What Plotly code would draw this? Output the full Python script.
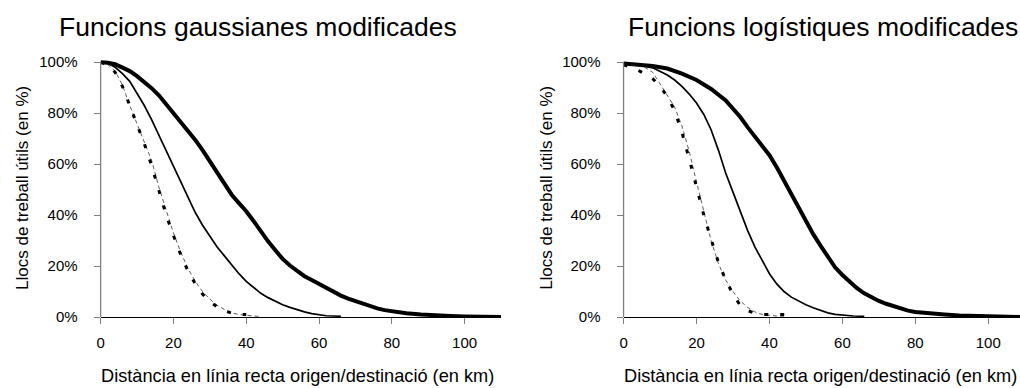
import plotly.graph_objects as go

# ---------------- data (km, % of useful jobs) ----------------
# Left panel: modified gaussian functions
g1_km = [0, 2, 4, 6, 8, 10, 12, 14, 16, 18, 20, 22, 24, 26, 28, 30, 32, 34, 36, 38, 40, 42, 44, 46, 48, 50,
         52, 54, 56, 58, 60, 62, 64, 66, 68, 70, 72, 74, 76, 78, 80, 84, 88, 92, 96, 100, 104, 110]
g1_pct = [100, 99.8, 99.2, 98, 96.5, 94.5, 92.3, 89.8, 87, 83.6, 80, 76.5, 73, 69.5, 65.5, 61, 56.5, 52, 48,
          44.7, 41.5, 37.7, 33.5, 29.7, 26.2, 22.8, 20.2, 18, 16, 14.5, 13, 11.2, 9.6, 8.4, 7.2, 6.2, 5.2,
          4.2, 3.4, 2.7, 2.2, 1.5, 1, 0.6, 0.4, 0.2, 0.1, 0]

g2_km = [0, 2, 4, 6, 8, 10, 12, 14, 16, 18, 20, 22, 24, 26, 28, 30, 32, 34, 36, 38, 40, 42, 44, 46, 48, 50,
         52, 54, 56, 58, 60, 62, 64, 66]
g2_pct = [100, 99.6, 98, 95.5, 92.5, 88, 83, 77.5, 71.5, 65.5, 59.5, 53, 47, 41, 36, 31.5, 27.5, 24, 20.5,
          17, 14, 11.5, 9.3, 7.6, 6.2, 4.8, 3.8, 2.8, 2, 1.3, 0.8, 0.5, 0.4, 0.3]

g3_km = [0, 2, 4, 6, 8, 10, 12, 14, 16, 18, 20, 22, 24, 26, 28, 30, 32, 34, 36, 38, 40, 42, 44]
g3_pct = [100, 99, 96.5, 91, 83, 76, 69, 61.5, 51, 42, 33, 25.5, 19, 14, 10, 7, 4.6, 3, 1.6, 1, 0.6, 0.4, 0.2]

g4_km = [0, 2, 4, 6, 8, 10, 12, 14, 16, 18, 20, 22, 24, 26, 28, 30, 32, 34, 36, 38, 40]
g4_pct = [100, 99, 96, 90.5, 83, 75.5, 68, 59.5, 49.5, 40, 32, 24.5, 18, 13, 9, 6, 4, 2.5, 1.5, 1, 1]

# Right panel: modified logistic functions
l1_km = [0, 4, 8, 12, 16, 20, 24, 28, 30, 32, 34, 36, 38, 40, 42, 44, 46, 48, 50, 52, 54, 56, 58, 60, 62,
         64, 66, 68, 70, 72, 74, 76, 78, 80, 84, 88, 92, 96, 100, 104, 109]
l1_pct = [99.5, 99, 98.5, 97.5, 95.5, 93, 89.5, 85, 82, 78.5, 74.5, 71, 67.3, 63.5, 58.8, 53.5, 48, 43, 37.5,
          32.5, 28, 23.5, 19.5, 16.5, 13.8, 11.3, 9.3, 7.7, 6.3, 5.2, 4.3, 3.3, 2.5, 2, 1.4, 1, 0.6, 0.4,
          0.3, 0.1, 0]

l2_km = [0, 4, 8, 10, 12, 14, 16, 18, 20, 22, 24, 26, 28, 30, 32, 34, 36, 38, 40, 42, 44, 46, 48, 50, 52,
         54, 56, 58, 60, 63, 66]
l2_pct = [99.6, 99, 97.8, 96.5, 95, 93, 90.5, 87.5, 84, 79.5, 73.5, 65.5, 56.5, 49, 41.5, 34, 27.5, 22, 17,
          13, 10, 7.8, 6.2, 4.8, 3.6, 2.5, 1.6, 1, 0.7, 0.4, 0.3]

l3_km = [0, 2, 4, 6, 8, 10, 12, 14, 16, 18, 20, 22, 24, 26, 28, 30, 32, 34, 36, 38, 40, 42, 44]
l3_pct = [99.3, 99, 98.5, 97.8, 96, 91.5, 87, 82.4, 75, 65, 53, 41.5, 30, 21, 14.5, 10, 6.3, 3.8, 2, 1,
          0.6, 0.4, 0.3]

l4_km = [0, 2, 4, 6, 8, 10, 12, 14, 16, 18, 20, 22, 24, 26, 28, 30, 32, 34, 36, 38, 40, 42, 44.5]
l4_pct = [99, 98, 96.8, 95.3, 93.5, 90.5, 86.5, 81, 72.5, 62, 50.5, 40, 30.5, 21.5, 14.5, 9, 4.5, 2.5, 1.5,
          1, 1, 1, 1]

titles = ["Funcions gaussianes modificades", "Funcions logístiques modificades"]
x_title = "Distància en línia recta origen/destinació (en km)"
y_title = "Llocs de treball útils (en %)"
x_ticks = [0, 20, 40, 60, 80, 100]
y_ticks = [0, 20, 40, 60, 80, 100]
y_tick_text = ["0%", "20%", "40%", "60%", "80%", "100%"]

FONT = "Liberation Sans, Arial, sans-serif"

styles = [
    dict(color="black", width=4),                       # thick
    dict(color="black", width=1.7),                     # medium
    dict(color="#333333", width=0.8, dash="4px,3px"),   # thin dashed
    dict(color="black", width=3, dash="4px,12px"),      # thick dotted
]

fig = go.Figure()
panels = [
    ([(g1_km, g1_pct), (g2_km, g2_pct), (g3_km, g3_pct), (g4_km, g4_pct)], "x", "y"),
    ([(l1_km, l1_pct), (l2_km, l2_pct), (l3_km, l3_pct), (l4_km, l4_pct)], "x2", "y2"),
]
for series, xa, ya in panels:
    for (xs, ys), st in zip(series, styles):
        fig.add_trace(go.Scatter(x=xs, y=ys, mode="lines", line=st, xaxis=xa, yaxis=ya,
                                 showlegend=False, hoverinfo="skip"))

W, H = 1020, 388
T, B = 52, 71
PH = H - T - B
left_dom = [97 / W, 499 / W]
right_dom = [622 / W, 1.0]

common_x = dict(showline=True, linecolor="black", linewidth=1, ticks="outside", ticklen=6,
                tickcolor="#808080", tickwidth=1, tickmode="array", tickvals=x_ticks,
                showgrid=False, zeroline=False,
                tickfont=dict(family=FONT, size=15, color="black"), ticklabelstandoff=6)
common_y = dict(showline=False, ticks="outside", ticklen=6, tickcolor="#808080", tickwidth=1,
                tickmode="array", tickvals=y_ticks, ticktext=y_tick_text,
                showgrid=False, zeroline=False, range=[0, 104], ticklabelstandoff=13,
                tickfont=dict(family=FONT, size=15, color="black"), domain=[0, 1])

fig.update_layout(
    width=W, height=H,
    margin=dict(l=0, r=0, t=T, b=B),
    paper_bgcolor="white", plot_bgcolor="white",
    font=dict(family=FONT, color="black"),
    xaxis=dict(domain=left_dom, range=[0, 110], anchor="y", **common_x),
    yaxis=dict(anchor="x", **common_y),
    xaxis2=dict(domain=right_dom, range=[0, 108.7], anchor="y2", **common_x),
    yaxis2=dict(anchor="x2", **common_y),
)

# y axis lines only up to 100 %
for xr, yr in [("x domain", "y"), ("x2 domain", "y2")]:
    fig.add_shape(type="line", xref=xr, yref=yr, x0=0, x1=0, y0=0, y1=100,
                  line=dict(color="#808080", width=1.3), layer="above")

# titles
for cx, t in [(255, titles[0]), (822, titles[1])]:
    fig.add_annotation(text=t, xref="paper", yref="paper", x=cx / W, y=1 + (T - 27) / PH,
                       xanchor="center", yanchor="middle", showarrow=False,
                       font=dict(family=FONT, size=26.5, color="black"))
for cx in [295, 820]:
    fig.add_annotation(text=x_title, xref="paper", yref="paper", x=cx / W, y=-(376 - 317) / PH,
                       xanchor="center", yanchor="middle", showarrow=False,
                       font=dict(family=FONT, size=18.2, color="black"))
for cx in [18, 544]:
    fig.add_annotation(text=y_title, xref="paper", yref="paper", x=cx / W, y=(317 - 188) / PH,
                       xanchor="center", yanchor="middle", showarrow=False, textangle=-90,
                       font=dict(family=FONT, size=17, color="black"))

fig.write_html("out.html", config={"displayModeBar": False},
               post_script="document.body.style.margin='0px';document.body.style.overflow='hidden';")
